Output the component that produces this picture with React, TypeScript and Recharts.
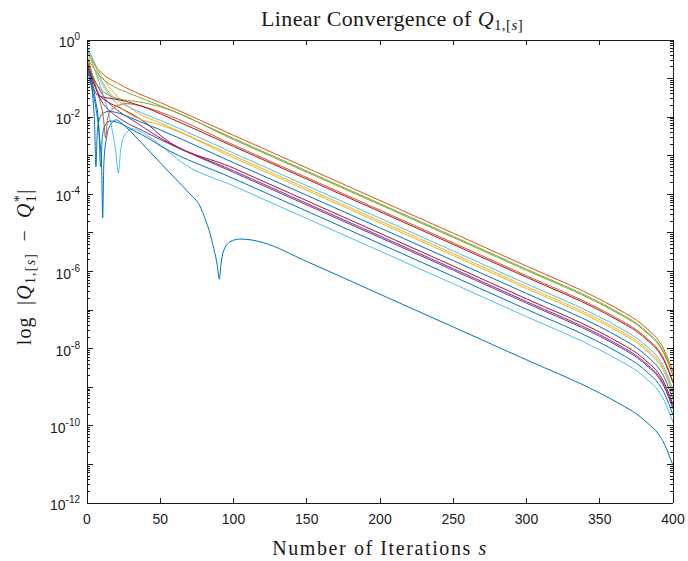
import { LineChart, Line, XAxis, YAxis } from "recharts";

const INK = "#1a1a1a";
const SANS = "'Liberation Sans', Arial, sans-serif";
const SERIF = "'Liberation Serif', 'Times New Roman', serif";

const BLUE = "#0072BD";
const ORANGE = "#D95319";
const YELLOW = "#EDB120";
const PURPLE = "#7E2F8E";
const GREEN = "#77AC30";
const LIGHTBLUE = "#4DBEEE";
const DARKRED = "#A2142F";

// [iteration s, log10 |Q - Q*|]
const q01 = [[0,-0.75],[3,-1.2],[6,-1.75],[8.5,-2.5],[10,-3.3],[10.7,-4.61],[11.5,-3.2],[13,-2.6],[16,-2.2],[20,-2.07],[24,-2.17],[30,-2.38],[40,-2.78],[50,-3.18],[60,-3.58],[70,-3.98],[77,-4.3],[80.5,-4.62],[84,-5.02],[86.5,-5.4],[89,-5.85],[90.3,-6.2],[91.5,-5.8],[93,-5.49],[97.6,-5.23],[104.5,-5.16],[112,-5.18],[120,-5.25],[150,-5.74],[200,-6.59],[300,-8.29],[350,-9.15],[365,-9.46],[375,-9.69],[383,-9.94],[390,-10.21],[394,-10.46],[397,-10.73],[400,-11.03]];
const q02 = [[0,-0.35],[3,-0.5],[6,-0.68],[10,-0.85],[15,-1.0],[20,-1.1],[30,-1.3],[50,-1.62],[100,-2.47],[200,-4.16],[300,-5.86],[350,-6.72],[365,-7.03],[375,-7.26],[383,-7.51],[390,-7.78],[394,-8.03],[397,-8.3],[400,-8.6]];
const q03 = [[0,-0.22],[4,-0.5],[8,-0.8],[12,-1.05],[18,-1.35],[25,-1.62],[35,-1.9],[50,-2.15],[100,-3.0],[200,-4.69],[300,-6.39],[350,-7.25],[365,-7.56],[375,-7.79],[383,-8.04],[390,-8.31],[394,-8.56],[397,-8.83],[400,-9.13]];
const q04 = [[0,-0.6],[4,-0.95],[8,-1.25],[13,-1.55],[20,-1.8],[30,-2.05],[40,-2.3],[50,-2.54],[100,-3.39],[200,-5.08],[300,-6.78],[350,-7.64],[365,-7.95],[375,-8.18],[383,-8.43],[390,-8.7],[394,-8.95],[397,-9.22],[400,-9.52]];
const q05 = [[0,-0.45],[4,-0.7],[8,-0.9],[12,-1.05],[18,-1.2],[30,-1.4],[50,-1.7],[100,-2.55],[200,-4.24],[300,-5.94],[350,-6.8],[365,-7.11],[375,-7.34],[383,-7.59],[390,-7.86],[394,-8.11],[397,-8.38],[400,-8.68]];
const q06 = [[0,-0.25],[3,-0.5],[6,-0.85],[10,-1.3],[14,-1.8],[17,-2.3],[19.5,-2.85],[21.4,-3.44],[23,-2.85],[26,-2.45],[31,-2.3],[40,-2.45],[50,-2.72],[65,-3.18],[100,-3.78],[200,-5.47],[300,-7.17],[350,-8.03],[365,-8.34],[375,-8.57],[383,-8.82],[390,-9.09],[394,-9.34],[397,-9.61],[400,-9.91]];
const q07 = [[0,-0.6],[3,-0.95],[6,-1.25],[9,-1.45],[14,-1.6],[22,-1.75],[32,-1.95],[42,-2.2],[50,-2.47],[100,-3.32],[200,-5.01],[300,-6.71],[350,-7.57],[365,-7.88],[375,-8.11],[383,-8.36],[390,-8.63],[394,-8.88],[397,-9.15],[400,-9.45]];
const q08 = [[0,-0.65],[2,-0.95],[4,-1.5],[5.2,-2.2],[6.1,-3.29],[7,-2.4],[8.5,-2.05],[11,-1.9],[15,-1.85],[22,-1.9],[32,-2.05],[50,-2.33],[100,-3.18],[200,-4.87],[300,-6.57],[350,-7.43],[365,-7.74],[375,-7.97],[383,-8.22],[390,-8.49],[394,-8.74],[397,-9.01],[400,-9.31]];
const q09 = [[0,-0.4],[3,-0.8],[6,-1.2],[9,-1.6],[11.3,-2.05],[12.7,-2.54],[14,-2.05],[16,-1.85],[20,-1.72],[27,-1.65],[38,-1.72],[50,-1.87],[100,-2.72],[200,-4.41],[300,-6.11],[350,-6.97],[365,-7.28],[375,-7.51],[383,-7.76],[390,-8.03],[394,-8.28],[397,-8.55],[400,-8.85]];
const q10 = [[0,-0.3],[3,-0.55],[7,-0.9],[12,-1.25],[18,-1.55],[26,-1.85],[36,-2.05],[50,-2.2],[100,-3.05],[200,-4.74],[300,-6.44],[350,-7.3],[365,-7.61],[375,-7.84],[383,-8.09],[390,-8.36],[394,-8.61],[397,-8.88],[400,-9.18]];
const q11 = [[0,-0.5],[3,-0.9],[7,-1.35],[11,-1.65],[16,-1.85],[25,-2.1],[38,-2.35],[50,-2.58],[100,-3.43],[200,-5.12],[300,-6.82],[350,-7.68],[365,-7.99],[375,-8.22],[383,-8.47],[390,-8.74],[394,-8.99],[397,-9.26],[400,-9.56]];
const q12 = [[0,-0.5],[3,-0.85],[6,-1.1],[10,-1.3],[16,-1.45],[25,-1.55],[35,-1.6],[50,-1.73],[100,-2.58],[200,-4.27],[300,-5.97],[350,-6.83],[365,-7.14],[375,-7.37],[383,-7.62],[390,-7.89],[394,-8.14],[397,-8.41],[400,-8.71]];
const q13 = [[0,-0.18],[3,-0.4],[6,-0.7],[10,-1.05],[15,-1.35],[22,-1.6],[32,-1.8],[50,-2.08],[100,-2.93],[200,-4.62],[300,-6.32],[350,-7.18],[365,-7.49],[375,-7.72],[383,-7.97],[390,-8.24],[394,-8.49],[397,-8.76],[400,-9.06]];
const q14 = [[0,-0.55],[3,-1.0],[5,-1.3],[8,-1.45],[14,-1.5],[22,-1.55],[32,-1.65],[42,-1.78],[50,-1.91],[100,-2.76],[200,-4.45],[300,-6.15],[350,-7.01],[365,-7.32],[375,-7.55],[383,-7.8],[390,-8.07],[394,-8.32],[397,-8.59],[400,-8.89]];
const q15 = [[0,-0.7],[3,-1.1],[6,-1.6],[8,-2.2],[9.3,-3.29],[10.5,-2.5],[12.5,-2.2],[16,-2.1],[22,-2.15],[32,-2.35],[42,-2.55],[50,-2.74],[100,-3.59],[200,-5.28],[300,-6.98],[350,-7.84],[365,-8.15],[375,-8.38],[383,-8.63],[390,-8.9],[394,-9.15],[397,-9.42],[400,-9.72]];

const SERIES = [
  { key: "q01", color: BLUE, pts: q01 },
  { key: "q02", color: ORANGE, pts: q02 },
  { key: "q03", color: YELLOW, pts: q03 },
  { key: "q04", color: PURPLE, pts: q04 },
  { key: "q05", color: GREEN, pts: q05 },
  { key: "q06", color: LIGHTBLUE, pts: q06 },
  { key: "q07", color: DARKRED, pts: q07 },
  { key: "q08", color: BLUE, pts: q08 },
  { key: "q09", color: ORANGE, pts: q09 },
  { key: "q10", color: YELLOW, pts: q10 },
  { key: "q11", color: PURPLE, pts: q11 },
  { key: "q12", color: GREEN, pts: q12 },
  { key: "q13", color: LIGHTBLUE, pts: q13 },
  { key: "q14", color: DARKRED, pts: q14 },
  { key: "q15", color: BLUE, pts: q15 },
];

const X_TICKS = [0, 50, 100, 150, 200, 250, 300, 350, 400];
// every decade gets a major tick, 2..9 a minor one; every other decade is labelled
const Y_TICKS: number[] = [];
for (let e = -12; e <= 0; e++) {
  Y_TICKS.push(Math.pow(10, e));
  if (e < 0) for (let k = 2; k <= 9; k++) Y_TICKS.push(k * Math.pow(10, e));
}

const sVals = Array.from(new Set(SERIES.flatMap((s) => s.pts.map((p) => p[0])))).sort((a, b) => a - b);
const table = sVals.map((s) => {
  const row: Record<string, number> = { s };
  for (const ser of SERIES) {
    const p = ser.pts.find((q) => q[0] === s);
    if (p) row[ser.key] = Math.pow(10, p[1]);
  }
  return row;
});

function decade(v: number) {
  const e = Math.log10(v);
  const r = Math.round(e);
  return { major: Math.abs(e - r) < 1e-6, exp: r };
}

function LeftTick({ x, y, payload }: any) {
  const { major, exp } = decade(payload.value);
  return (
    <g>
      <line x1={x} x2={x + (major ? 6 : 3)} y1={y} y2={y} stroke={INK} shapeRendering="crispEdges" />
      {major && exp % 2 === 0 && (
        <text x={x - 7} y={y + 7} textAnchor="end" fill={INK} fontFamily={SANS} fontSize={14}>
          10
          <tspan dy={-7} fontSize={10}>{exp}</tspan>
        </text>
      )}
    </g>
  );
}

function RightTick({ x, y, payload }: any) {
  const { major } = decade(payload.value);
  return <line x1={x - (major ? 6 : 3)} x2={x} y1={y} y2={y} stroke={INK} shapeRendering="crispEdges" />;
}

function BottomTick({ x, y, payload }: any) {
  return (
    <g>
      <line x1={x} x2={x} y1={y - 5} y2={y} stroke={INK} shapeRendering="crispEdges" />
      <text x={x} y={y + 21} textAnchor="middle" fill={INK} fontFamily={SANS} fontSize={14}>
        {payload.value}
      </text>
    </g>
  );
}

function TopTick({ x, y }: any) {
  return <line x1={x} x2={x} y1={y} y2={y + 5} stroke={INK} shapeRendering="crispEdges" />;
}

const LOG_DOMAIN: [number, number] = [1e-12, 1];
const AXIS_LINE = { stroke: INK, shapeRendering: "crispEdges" };

export default function App() {
  return (
    <div style={{ position: "absolute", left: 0, top: 0, width: 688, height: 561, background: "#fff" }}>
      <LineChart width={688} height={561} data={table} margin={{ top: 39, right: 14, bottom: 0, left: 0 }}>
        <XAxis
          dataKey="s" type="number" domain={[0, 400]} ticks={X_TICKS} interval={0} allowDataOverflow
          height={58} tickLine={false} tickSize={0} tickMargin={0}
          axisLine={AXIS_LINE} tick={<BottomTick />}
        />
        <XAxis
          xAxisId="t" orientation="top" dataKey="s" type="number" domain={[0, 400]} ticks={X_TICKS} interval={0} allowDataOverflow
          height={1} tickLine={false} tickSize={0} tickMargin={0}
          axisLine={AXIS_LINE} tick={<TopTick />}
        />
        <YAxis
          type="number" scale="log" domain={LOG_DOMAIN} ticks={Y_TICKS} interval={0} allowDataOverflow
          width={87} tickLine={false} tickSize={0} tickMargin={0}
          axisLine={AXIS_LINE} tick={<LeftTick />}
        />
        <YAxis
          yAxisId="r" orientation="right" type="number" scale="log" domain={LOG_DOMAIN} ticks={Y_TICKS} interval={0} allowDataOverflow
          width={1} tickLine={false} tickSize={0} tickMargin={0}
          axisLine={AXIS_LINE} tick={<RightTick />}
        />
        {SERIES.map((ser) => (
          <Line
            key={ser.key}
            dataKey={ser.key}
            type="monotone"
            stroke={ser.color}
            strokeWidth={1}
            dot={false}
            activeDot={false}
            connectNulls
            isAnimationActive={false}
          />
        ))}
      </LineChart>
      <svg width={688} height={561} style={{ position: "absolute", left: 0, top: 0, pointerEvents: "none" }}>
        <text x={392} y={26} textAnchor="middle" fontFamily={SERIF} fontSize={22} letterSpacing={0.4} fill={INK}>
          Linear Convergence of <tspan fontStyle="italic">Q</tspan>
          <tspan fontSize={15} dy={4}>1,[</tspan>
          <tspan fontSize={15} fontStyle="italic">s</tspan>
          <tspan fontSize={15}>]</tspan>
        </text>
        <text x={380} y={555} textAnchor="middle" fontFamily={SERIF} fontSize={20} letterSpacing={1.6} fill={INK}>
          Number of Iterations <tspan fontStyle="italic">s</tspan>
        </text>
        <text transform="translate(31,267) rotate(-90)" textAnchor="middle" fontFamily={SERIF} fontSize={20} letterSpacing={1.2} fill={INK}>
          log{"\u2002"}|<tspan fontStyle="italic">Q</tspan>
          <tspan fontSize={14} dy={4}>1,[</tspan>
          <tspan fontSize={14} fontStyle="italic">s</tspan>
          <tspan fontSize={14}>]</tspan>
          <tspan dy={-4}>{"\u2002−\u2002"}</tspan>
          <tspan fontStyle="italic">Q</tspan>
          <tspan fontSize={14} dy={5}>1</tspan>
          <tspan fontSize={14} dx={-8} dy={-12}>*</tspan>
          <tspan dy={7}>|</tspan>
        </text>
      </svg>
    </div>
  );
}
